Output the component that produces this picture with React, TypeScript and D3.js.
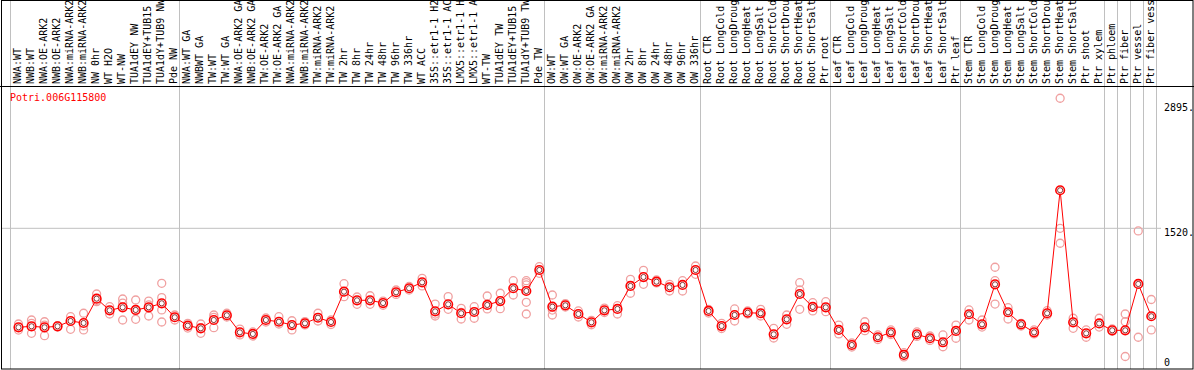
import React from "react";
import * as d3 from "d3";

const title = "Potri.006G115800";

const labels: string[] = [
  "NWA:WT", "NWB:WT", "NWA:OE-ARK2", "NWB:OE-ARK2", "NWA:miRNA-ARK2", "NWB:miRNA-ARK2",
  "NW 0hr", "WT H2O", "WT-NW", "TUA1dEY NW", "TUA1dEY+TUB15", "TUA1dY+TUB9 NW", "Pde NW",
  "NWA:WT GA", "NWBWT GA", "TW:WT", "TW:WT GA", "NWA:OE-ARK2 GA", "NWB:OE-ARK2 GA",
  "TW:OE-ARK2", "TW:OE-ARK2 GA", "NWA:miRNA-ARK2", "NWB:miRNA-ARK2", "TW:miRNA-ARK2",
  "TW:miRNA-ARK2", "TW 2hr", "TW 8hr", "TW 24hr", "TW 48hr", "TW 96hr", "TW 336hr", "WT ACC",
  "35S::etr1-1 H2", "35S::etr1-1 AC", "LMX5::etr1-1 H", "LMX5::etr1-1 A", "WT-TW",
  "TUA1dEY TW", "TUA1dEY+TUB15", "TUA1dY+TUB9 TW", "Pde TW",
  "OW:WT", "OW:WT GA", "OW:OE-ARK2", "OW:OE-ARK2 GA", "OW:miRNA-ARK2", "OW:miRNA-ARK2",
  "OW 2hr", "OW 8hr", "OW 24hr", "OW 48hr", "OW 96hr", "OW 336hr",
  "Root CTR", "Root LongCold", "Root LongDroug", "Root LongHeat", "Root LongSalt",
  "Root ShortCold", "Root ShortDrou", "Root ShortHeat", "Root ShortSalt", "Ptr root",
  "Leaf CTR", "Leaf LongCold", "Leaf LongDroug", "Leaf LongHeat", "Leaf LongSalt",
  "Leaf ShortCold", "Leaf ShortDrou", "Leaf ShortHeat", "Leaf ShortSalt", "Ptr leaf",
  "Stem CTR", "Stem LongCold", "Stem LongDroug", "Stem LongHeat", "Stem LongSalt",
  "Stem ShortCold", "Stem ShortDrou", "Stem ShortHeat", "Stem ShortSalt", "Ptr shoot",
  "Ptr xylem", "Ptr phloem", "Ptr fiber", "Ptr vessel", "Ptr fiber vess",
];

const means: number[] = [
  435, 446, 435, 446, 504, 482, 749, 621, 654, 625,
  654, 698, 545, 453, 424, 515, 567, 380, 362, 515,
  496, 460, 479, 540, 493, 825, 731, 731, 701, 819,
  863, 928, 610, 687, 589, 603, 680, 723, 863, 833,
  1063, 661, 676, 581, 490, 621, 636, 888, 986, 935,
  874, 899, 1063, 614, 449, 570, 595, 589, 358, 523,
  800, 658, 654, 406, 241, 435, 326, 380, 132, 358,
  315, 271, 395, 578, 468, 906, 600, 468, 380, 589,
  1937, 490, 369, 477, 402, 402, 910, 556,
];

const replicates: number[][] = [
  [471, 405], [515, 479, 369], [496, 460, 343], [440, 452], [551, 413], [589, 450, 406],
  [800, 730, 716], [661, 581], [745, 700, 515], [734, 618, 523], [723, 680, 559],
  [917, 760, 625, 493], [570, 515], [479, 427], [471, 432, 369], [570, 544, 431],
  [589, 548], [351, 416], [384, 340], [537, 493], [551, 471], [507, 406], [497, 461],
  [589, 504], [515, 466], [913, 771], [687, 767], [781, 687], [723, 676], [844, 795],
  [883, 843], [972, 888], [690, 580, 559], [771, 632], [643, 598, 526], [661, 534],
  [778, 636], [808, 639], [946, 789], [946, 924, 899, 709, 581], [1099, 1027],
  [789, 624, 570], [695, 657], [614, 548], [512, 463], [645, 597], [672, 581],
  [961, 808], [1060, 906], [954, 921], [906, 833], [946, 833], [1107, 1016],
  [630, 592], [479, 422], [636, 504], [614, 581], [632, 559], [424, 318], [570, 468],
  [924, 844, 632], [705, 614], [716, 606], [460, 362], [263, 219], [496, 398],
  [351, 301], [406, 356], [157, 110], [384, 335], [340, 291], [351, 222], [460, 315],
  [625, 515], [515, 438], [1093, 946, 690], [650, 526], [479, 449], [406, 362],
  [617, 570], [2945, 1520, 1356], [534, 424], [406, 326], [534, 438], [417, 391],
  [581, 496, 115], [1491, 326], [740, 406],
];

// column indices where a group separator line is drawn (left edge of column)
const groupBreaks: number[] = [0, 13, 41, 53, 63, 73, 84, 85, 86, 87, 88];
const axisTicks: number[] = [2895, 1520, 0];
const gridValues: number[] = [1520];

const W = 1194;
const H = 370;
const headerBottom = 86;
const plotBottom = 369;
const mono = "'DejaVu Sans Mono', 'Liberation Mono', monospace";

export default function App() {
  const x = d3.scaleLinear().domain([0, labels.length]).range([10, 1155.8]);
  const colW = x(1) - x(0);
  const px = (i: number) => x(i) + 8.5;
  const y = d3.scaleLinear().domain([0, 1520]).range([367, 228.3]);

  const line = d3
    .line<number>()
    .x((_, i) => px(i))
    .y((d) => y(d));

  return (
    <svg
      width={W}
      height={H}
      style={{ position: "absolute", left: 0, top: 0, background: "#fff" }}
    >
      <defs>
        <clipPath id="hdr">
          <rect x={0} y={1} width={W} height={headerBottom - 1} />
        </clipPath>
      </defs>
      {/* grid lines */}
      {gridValues.map((v) => (
        <line key={v} x1={1} x2={1161} y1={y(v)} y2={y(v)} stroke="#c0c0c0" strokeWidth={1} />
      ))}
      {groupBreaks.map((c) => (
        <line
          key={c}
          x1={Math.round(x(c)) + 0.5}
          x2={Math.round(x(c)) + 0.5}
          y1={0}
          y2={plotBottom}
          stroke="#c0c0c0"
          strokeWidth={1}
        />
      ))}
      {/* borders */}
      <rect x={1.5} y={0.5} width={W - 2.5} height={plotBottom - 0.5} fill="none" stroke="#000" strokeWidth={1} />
      <line x1={0} x2={W} y1={headerBottom + 0.5} y2={headerBottom + 0.5} stroke="#000" strokeWidth={1} />
      {/* header labels */}
      <g clipPath="url(#hdr)">
        {labels.map((l, i) => {
          const cx = x(i) + colW * 0.58 + 3.5;
          return (
            <text
              key={i}
              transform={`translate(${cx},84) rotate(-90)`}
              fontFamily={mono}
              fontSize={10}
              fill="#000"
            >
              {l}
            </text>
          );
        })}
      </g>
      {/* title */}
      <text x={10} y={101} fontFamily={mono} fontSize={10} fill="#ff0000">
        {title}
      </text>
      {/* axis labels */}
      {axisTicks.map((v) => (
        <text
          key={v}
          x={1164}
          y={v === 0 ? 366 : y(v) + 8}
          fontFamily={mono}
          fontSize={10}
          fill="#000"
        >
          {v === 0 ? "0" : `${v}.`}
        </text>
      ))}
      {/* replicates */}
      {replicates.map((reps, i) =>
        reps.map((v, j) => (
          <circle
            key={`${i}-${j}`}
            cx={px(i)}
            cy={y(v)}
            r={4}
            fill="none"
            stroke="#f0a0a0"
            strokeWidth={1.3}
          />
        ))
      )}
      {/* mean line */}
      <path d={line(means) || ""} fill="none" stroke="#ff0000" strokeWidth={1} />
      {/* means */}
      {means.map((v, i) => (
        <g key={i}>
          <circle cx={px(i)} cy={y(v)} r={4.3} fill="#fff" stroke="#ff0000" strokeWidth={1.6} />
          <circle cx={px(i)} cy={y(v)} r={2.6} fill="none" stroke="#700000" strokeWidth={0.8} />
        </g>
      ))}
    </svg>
  );
}
